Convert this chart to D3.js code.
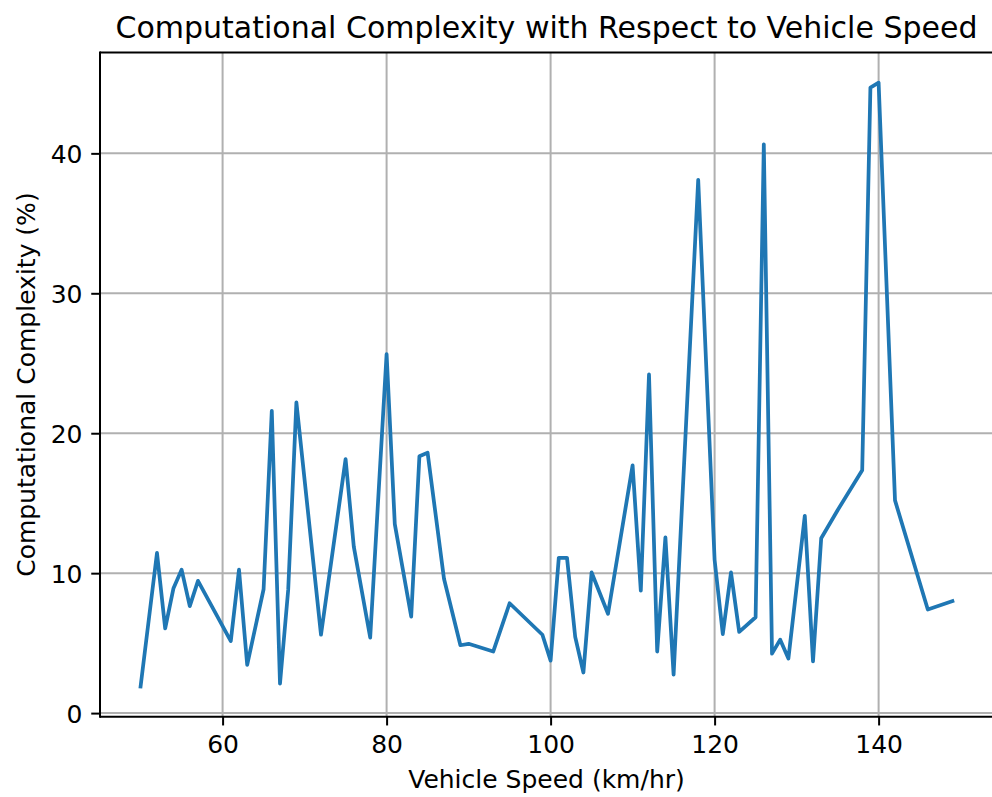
<!DOCTYPE html>
<html>
<head>
<meta charset="utf-8">
<script src="https://cdn.jsdelivr.net/npm/d3@7"></script>
<style>
  html, body { margin: 0; padding: 0; background: #fff; }
  svg { display: block; font-family: "DejaVu Sans", sans-serif; }
</style>
</head>
<body>
<svg id="chart" width="992" height="797"></svg>
<script>
// ---- data ----
const speeds = [50, 52, 53, 54, 55, 56, 57, 61, 62, 63, 65, 66, 67, 68, 69, 72, 75, 76, 78, 80,
                81, 83, 84, 85, 87, 89, 90, 93, 95, 99, 100, 101, 102, 103, 104, 105, 107, 110, 111, 112,
                113, 114, 115, 118, 120, 121, 122, 123, 125, 126, 127, 128, 129, 131, 132, 133, 135, 138, 139, 140,
                142, 146, 149];
const complexity = [1.9, 11.45, 6.05, 8.9, 10.25, 7.65, 9.45, 5.15, 10.25, 3.45, 8.85, 21.6, 2.1, 8.8, 22.2, 5.6, 18.15, 11.9, 5.4, 25.65,
                    13.5, 6.9, 18.35, 18.6, 9.6, 4.85, 4.95, 4.4, 7.85, 5.6, 3.75, 11.1, 11.1, 5.45, 2.9, 10.05, 7.1, 17.7, 8.75, 24.2,
                    4.4, 12.55, 2.75, 38.1, 10.95, 5.65, 10.05, 5.8, 6.85, 40.65, 4.25, 5.25, 3.9, 14.1, 3.7, 12.5, 14.5, 17.35, 44.7, 45.05,
                    15.2, 7.4, 8.0];
const xTicks = [60, 80, 100, 120, 140];
const yTicks = [0, 10, 20, 30, 40];
const titleText = "Computational Complexity with Respect to Vehicle Speed";
const xLabelText = "Vehicle Speed (km/hr)";
const yLabelText = "Computational Complexity (%)";

const data = speeds.map((s, i) => ({x: s, y: complexity[i]}));

// ---- layout ----
const M = {left: 100, right: 993, top: 52.5, bottom: 716.7};
const tickLen = 8.75, tickPad = 8.75, fontSize = 25;

function padded(ext) {
  const r = ext[1] - ext[0];
  return [ext[0] - 0.05 * r, ext[1] + 0.05 * r];
}
const x = d3.scaleLinear().domain(padded(d3.extent(speeds))).range([M.left, M.right]);
const y = d3.scaleLinear().domain(padded(d3.extent(complexity))).range([M.bottom, M.top]);

const svg = d3.select("#chart");

// grid
const grid = svg.append("g");
grid.selectAll("line.gx").data(xTicks).join("line").attr("class", "gx")
  .attr("x1", d => x(d)).attr("x2", d => x(d))
  .attr("y1", M.top).attr("y2", M.bottom)
  .attr("stroke", "#b0b0b0").attr("stroke-width", 2);
grid.selectAll("line.gy").data(yTicks).join("line").attr("class", "gy")
  .attr("y1", d => y(d)).attr("y2", d => y(d))
  .attr("x1", M.left).attr("x2", M.right)
  .attr("stroke", "#b0b0b0").attr("stroke-width", 2);

// line
const line = d3.line().x(d => x(d.x)).y(d => y(d.y));
svg.append("path").datum(data)
  .attr("d", line)
  .attr("fill", "none")
  .attr("stroke", "#1f77b4")
  .attr("stroke-width", 3.75)
  .attr("stroke-linejoin", "round")
  .attr("stroke-linecap", "square");

// axes
const xAxis = d3.axisBottom(x).tickValues(xTicks).tickSize(tickLen).tickPadding(tickPad).tickSizeOuter(0);
const yAxis = d3.axisLeft(y).tickValues(yTicks).tickSize(tickLen).tickPadding(tickPad).tickSizeOuter(0);

const gx = svg.append("g").attr("transform", `translate(0,${M.bottom})`).call(xAxis);
const gy = svg.append("g").attr("transform", `translate(${M.left},0)`).call(yAxis);
[gx, gy].forEach(g => {
  g.select(".domain").remove();
  g.selectAll(".tick line").attr("stroke", "#000").attr("stroke-width", 2);
  g.selectAll(".tick text").attr("fill", "#000")
    .style("font-family", "'DejaVu Sans', sans-serif").style("font-size", fontSize + "px");
});
gx.selectAll(".tick text").attr("dy", null).attr("y", tickLen + tickPad + 0.76 * fontSize);
gy.selectAll(".tick text").attr("dy", "0.36em");

// spines (right spine lies beyond the visible area)
const spines = [
  [M.left, M.top, M.right + 2, M.top],
  [M.left, M.bottom, M.right + 2, M.bottom],
  [M.left, M.top - 1, M.left, M.bottom + 1]
];
svg.append("g").selectAll("line").data(spines).join("line")
  .attr("x1", d => d[0]).attr("y1", d => d[1])
  .attr("x2", d => d[2]).attr("y2", d => d[3])
  .attr("stroke", "#000").attr("stroke-width", 2);

// title & labels
svg.append("text")
  .attr("x", (M.left + M.right) / 2).attr("y", M.top - 15)
  .attr("text-anchor", "middle")
  .style("font-size", "30px").attr("fill", "#000")
  .text(titleText);

svg.append("text")
  .attr("x", (M.left + M.right) / 2).attr("y", 788)
  .attr("text-anchor", "middle")
  .style("font-size", fontSize + "px").attr("fill", "#000")
  .text(xLabelText);

svg.append("text")
  .attr("transform", `translate(35,${(M.top + M.bottom) / 2}) rotate(-90)`)
  .attr("text-anchor", "middle")
  .style("font-size", fontSize + "px").attr("fill", "#000")
  .text(yLabelText);
</script>
</body>
</html>
